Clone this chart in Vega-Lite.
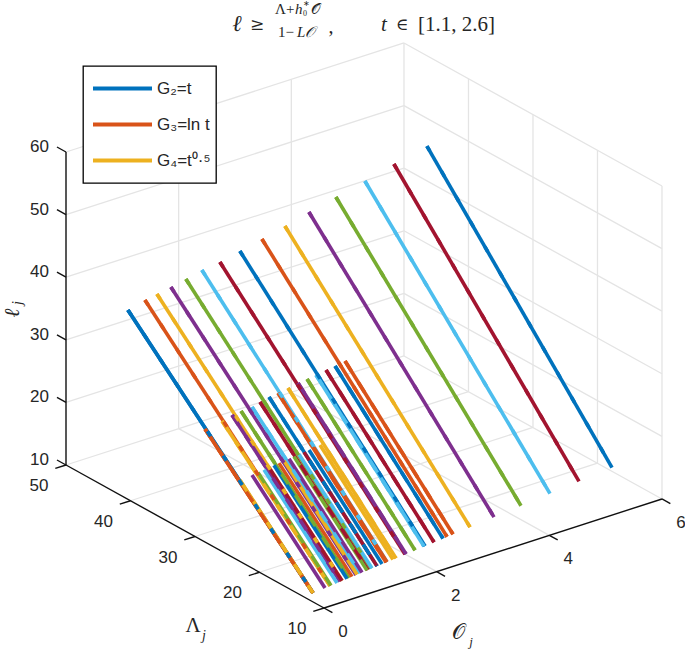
{
"$schema":"https://vega.github.io/schema/vega-lite/v6.json",
"width":685,"height":650,"padding":0,"autosize":{"type":"none"},
"background":"white",
"config":{"view":{"stroke":null},"text":{"font":"Liberation Sans","fontSize":17,"fill":"#262626"}},
"layer":[
{
"data":{"name":"rows","values":[
{"kind":"line","id":0,"G":"G₂=t","O":0.034,"Lam":12,"ell":11.16},{"kind":"line","id":0,"G":"G₂=t","O":0.034,"Lam":40.7,"ell":39.97},
{"kind":"line","id":1,"G":"G₂=t","O":0.336,"Lam":12,"ell":11.42},{"kind":"line","id":1,"G":"G₂=t","O":0.336,"Lam":40.7,"ell":40.70},
{"kind":"line","id":2,"G":"G₂=t","O":0.549,"Lam":12,"ell":11.61},{"kind":"line","id":2,"G":"G₂=t","O":0.549,"Lam":40.7,"ell":41.03},
{"kind":"line","id":3,"G":"G₂=t","O":0.797,"Lam":12,"ell":11.82},{"kind":"line","id":3,"G":"G₂=t","O":0.797,"Lam":40.7,"ell":41.43},
{"kind":"line","id":4,"G":"G₂=t","O":1.063,"Lam":12,"ell":12.06},{"kind":"line","id":4,"G":"G₂=t","O":1.063,"Lam":40.7,"ell":41.94},
{"kind":"line","id":5,"G":"G₂=t","O":1.347,"Lam":12,"ell":12.30},{"kind":"line","id":5,"G":"G₂=t","O":1.347,"Lam":40.7,"ell":42.55},
{"kind":"line","id":6,"G":"G₂=t","O":1.667,"Lam":12,"ell":12.58},{"kind":"line","id":6,"G":"G₂=t","O":1.667,"Lam":40.7,"ell":42.90},
{"kind":"line","id":7,"G":"G₂=t","O":2.022,"Lam":12,"ell":12.89},{"kind":"line","id":7,"G":"G₂=t","O":2.022,"Lam":40.7,"ell":43.63},
{"kind":"line","id":8,"G":"G₂=t","O":2.413,"Lam":12,"ell":13.23},{"kind":"line","id":8,"G":"G₂=t","O":2.413,"Lam":40.7,"ell":44.41},
{"kind":"line","id":9,"G":"G₂=t","O":2.821,"Lam":12,"ell":13.59},{"kind":"line","id":9,"G":"G₂=t","O":2.821,"Lam":40.7,"ell":45.30},
{"kind":"line","id":10,"G":"G₂=t","O":3.247,"Lam":12,"ell":13.96},{"kind":"line","id":10,"G":"G₂=t","O":3.247,"Lam":40.7,"ell":46.30},
{"kind":"line","id":11,"G":"G₂=t","O":3.726,"Lam":12,"ell":14.38},{"kind":"line","id":11,"G":"G₂=t","O":3.726,"Lam":40.7,"ell":47.31},
{"kind":"line","id":12,"G":"G₂=t","O":4.241,"Lam":12,"ell":14.83},{"kind":"line","id":12,"G":"G₂=t","O":4.241,"Lam":40.7,"ell":48.37},
{"kind":"line","id":13,"G":"G₂=t","O":4.756,"Lam":12,"ell":15.28},{"kind":"line","id":13,"G":"G₂=t","O":4.756,"Lam":40.7,"ell":49.59},
{"kind":"line","id":14,"G":"G₂=t","O":5.342,"Lam":12,"ell":15.79},{"kind":"line","id":14,"G":"G₂=t","O":5.342,"Lam":40.7,"ell":50.76},
{"kind":"line","id":15,"G":"G₃=ln t","O":0.034,"Lam":12,"ell":11.16},{"kind":"line","id":15,"G":"G₃=ln t","O":0.034,"Lam":28.74,"ell":27.79},
{"kind":"line","id":16,"G":"G₃=ln t","O":0.336,"Lam":12,"ell":11.42},{"kind":"line","id":16,"G":"G₃=ln t","O":0.336,"Lam":28.74,"ell":28.19},
{"kind":"line","id":17,"G":"G₃=ln t","O":0.513,"Lam":12,"ell":11.58},{"kind":"line","id":17,"G":"G₃=ln t","O":0.513,"Lam":28.74,"ell":28.64},
{"kind":"line","id":18,"G":"G₃=ln t","O":0.673,"Lam":12,"ell":11.71},{"kind":"line","id":18,"G":"G₃=ln t","O":0.673,"Lam":28.74,"ell":28.81},
{"kind":"line","id":19,"G":"G₃=ln t","O":0.868,"Lam":12,"ell":11.89},{"kind":"line","id":19,"G":"G₃=ln t","O":0.868,"Lam":28.74,"ell":28.89},
{"kind":"line","id":20,"G":"G₃=ln t","O":1.010,"Lam":12,"ell":12.01},{"kind":"line","id":20,"G":"G₃=ln t","O":1.010,"Lam":28.74,"ell":29.27},
{"kind":"line","id":21,"G":"G₃=ln t","O":1.170,"Lam":12,"ell":12.15},{"kind":"line","id":21,"G":"G₃=ln t","O":1.170,"Lam":28.74,"ell":29.61},
{"kind":"line","id":22,"G":"G₃=ln t","O":1.330,"Lam":12,"ell":12.29},{"kind":"line","id":22,"G":"G₃=ln t","O":1.330,"Lam":28.74,"ell":29.78},
{"kind":"line","id":23,"G":"G₃=ln t","O":1.507,"Lam":12,"ell":12.44},{"kind":"line","id":23,"G":"G₃=ln t","O":1.507,"Lam":28.74,"ell":30.07},
{"kind":"line","id":24,"G":"G₃=ln t","O":1.685,"Lam":12,"ell":12.60},{"kind":"line","id":24,"G":"G₃=ln t","O":1.685,"Lam":28.74,"ell":30.35},
{"kind":"line","id":25,"G":"G₃=ln t","O":1.845,"Lam":12,"ell":12.74},{"kind":"line","id":25,"G":"G₃=ln t","O":1.845,"Lam":28.74,"ell":30.52},
{"kind":"line","id":26,"G":"G₃=ln t","O":2.004,"Lam":12,"ell":12.88},{"kind":"line","id":26,"G":"G₃=ln t","O":2.004,"Lam":28.74,"ell":30.70},
{"kind":"line","id":27,"G":"G₃=ln t","O":2.182,"Lam":12,"ell":13.03},{"kind":"line","id":27,"G":"G₃=ln t","O":2.182,"Lam":28.74,"ell":30.98},
{"kind":"line","id":28,"G":"G₃=ln t","O":2.342,"Lam":12,"ell":13.17},{"kind":"line","id":28,"G":"G₃=ln t","O":2.342,"Lam":28.74,"ell":31.16},
{"kind":"line","id":29,"G":"G₃=ln t","O":2.519,"Lam":12,"ell":13.33},{"kind":"line","id":29,"G":"G₃=ln t","O":2.519,"Lam":28.74,"ell":31.44},
{"kind":"line","id":30,"G":"G₄=t⁰·⁵","O":0.034,"Lam":12,"ell":11.16},{"kind":"line","id":30,"G":"G₄=t⁰·⁵","O":0.034,"Lam":23.32,"ell":22.69},
{"kind":"line","id":31,"G":"G₄=t⁰·⁵","O":0.247,"Lam":12,"ell":11.34},{"kind":"line","id":31,"G":"G₄=t⁰·⁵","O":0.247,"Lam":23.32,"ell":22.92},
{"kind":"line","id":32,"G":"G₄=t⁰·⁵","O":0.353,"Lam":12,"ell":11.44},{"kind":"line","id":32,"G":"G₄=t⁰·⁵","O":0.353,"Lam":23.32,"ell":23.03},
{"kind":"line","id":33,"G":"G₄=t⁰·⁵","O":0.460,"Lam":12,"ell":11.53},{"kind":"line","id":33,"G":"G₄=t⁰·⁵","O":0.460,"Lam":23.32,"ell":23.15},
{"kind":"line","id":34,"G":"G₄=t⁰·⁵","O":0.549,"Lam":12,"ell":11.61},{"kind":"line","id":34,"G":"G₄=t⁰·⁵","O":0.549,"Lam":23.32,"ell":23.24},
{"kind":"line","id":35,"G":"G₄=t⁰·⁵","O":0.637,"Lam":12,"ell":11.68},{"kind":"line","id":35,"G":"G₄=t⁰·⁵","O":0.637,"Lam":23.32,"ell":23.34},
{"kind":"line","id":36,"G":"G₄=t⁰·⁵","O":0.726,"Lam":12,"ell":11.76},{"kind":"line","id":36,"G":"G₄=t⁰·⁵","O":0.726,"Lam":23.32,"ell":23.43},
{"kind":"line","id":37,"G":"G₄=t⁰·⁵","O":0.815,"Lam":12,"ell":11.84},{"kind":"line","id":37,"G":"G₄=t⁰·⁵","O":0.815,"Lam":23.32,"ell":23.53},
{"kind":"line","id":38,"G":"G₄=t⁰·⁵","O":0.904,"Lam":12,"ell":11.92},{"kind":"line","id":38,"G":"G₄=t⁰·⁵","O":0.904,"Lam":23.32,"ell":23.62},
{"kind":"line","id":39,"G":"G₄=t⁰·⁵","O":0.992,"Lam":12,"ell":11.99},{"kind":"line","id":39,"G":"G₄=t⁰·⁵","O":0.992,"Lam":23.32,"ell":23.72},
{"kind":"line","id":40,"G":"G₄=t⁰·⁵","O":1.081,"Lam":12,"ell":12.07},{"kind":"line","id":40,"G":"G₄=t⁰·⁵","O":1.081,"Lam":23.32,"ell":23.81},
{"kind":"line","id":41,"G":"G₄=t⁰·⁵","O":1.170,"Lam":12,"ell":12.15},{"kind":"line","id":41,"G":"G₄=t⁰·⁵","O":1.170,"Lam":23.32,"ell":23.90},
{"kind":"line","id":42,"G":"G₄=t⁰·⁵","O":1.259,"Lam":12,"ell":12.23},{"kind":"line","id":42,"G":"G₄=t⁰·⁵","O":1.259,"Lam":23.32,"ell":23.99},
{"kind":"line","id":43,"G":"G₄=t⁰·⁵","O":1.347,"Lam":12,"ell":12.30},{"kind":"line","id":43,"G":"G₄=t⁰·⁵","O":1.347,"Lam":23.32,"ell":24.09},
{"kind":"line","id":44,"G":"G₄=t⁰·⁵","O":1.454,"Lam":12,"ell":12.40},{"kind":"line","id":44,"G":"G₄=t⁰·⁵","O":1.454,"Lam":23.32,"ell":24.21},

{"kind":"grid","id":"fL20","O":0,"Lam":20,"ell":10},{"kind":"grid","id":"fL20","O":6,"Lam":20,"ell":10},
{"kind":"grid","id":"fL30","O":0,"Lam":30,"ell":10},{"kind":"grid","id":"fL30","O":6,"Lam":30,"ell":10},
{"kind":"grid","id":"fL40","O":0,"Lam":40,"ell":10},{"kind":"grid","id":"fL40","O":6,"Lam":40,"ell":10},
{"kind":"grid","id":"fL50","O":0,"Lam":50,"ell":10},{"kind":"grid","id":"fL50","O":6,"Lam":50,"ell":10},
{"kind":"grid","id":"fO2","O":2,"Lam":10,"ell":10},{"kind":"grid","id":"fO2","O":2,"Lam":50,"ell":10},
{"kind":"grid","id":"fO4","O":4,"Lam":10,"ell":10},{"kind":"grid","id":"fO4","O":4,"Lam":50,"ell":10},
{"kind":"grid","id":"fO6","O":6,"Lam":10,"ell":10},{"kind":"grid","id":"fO6","O":6,"Lam":50,"ell":10},
{"kind":"grid","id":"a20","O":0,"Lam":50,"ell":20},{"kind":"grid","id":"a20","O":6,"Lam":50,"ell":20},
{"kind":"grid","id":"a30","O":0,"Lam":50,"ell":30},{"kind":"grid","id":"a30","O":6,"Lam":50,"ell":30},
{"kind":"grid","id":"a40","O":0,"Lam":50,"ell":40},{"kind":"grid","id":"a40","O":6,"Lam":50,"ell":40},
{"kind":"grid","id":"a50","O":0,"Lam":50,"ell":50},{"kind":"grid","id":"a50","O":6,"Lam":50,"ell":50},
{"kind":"grid","id":"a60","O":0,"Lam":50,"ell":60},{"kind":"grid","id":"a60","O":6,"Lam":50,"ell":60},
{"kind":"grid","id":"aO2","O":2,"Lam":50,"ell":10},{"kind":"grid","id":"aO2","O":2,"Lam":50,"ell":60},
{"kind":"grid","id":"aO4","O":4,"Lam":50,"ell":10},{"kind":"grid","id":"aO4","O":4,"Lam":50,"ell":60},
{"kind":"grid","id":"aO6","O":6,"Lam":50,"ell":10},{"kind":"grid","id":"aO6","O":6,"Lam":50,"ell":60},
{"kind":"grid","id":"b20","O":6,"Lam":10,"ell":20},{"kind":"grid","id":"b20","O":6,"Lam":50,"ell":20},
{"kind":"grid","id":"b30","O":6,"Lam":10,"ell":30},{"kind":"grid","id":"b30","O":6,"Lam":50,"ell":30},
{"kind":"grid","id":"b40","O":6,"Lam":10,"ell":40},{"kind":"grid","id":"b40","O":6,"Lam":50,"ell":40},
{"kind":"grid","id":"b50","O":6,"Lam":10,"ell":50},{"kind":"grid","id":"b50","O":6,"Lam":50,"ell":50},
{"kind":"grid","id":"b60","O":6,"Lam":10,"ell":60},{"kind":"grid","id":"b60","O":6,"Lam":50,"ell":60},
{"kind":"grid","id":"bL10","O":6,"Lam":10,"ell":10},{"kind":"grid","id":"bL10","O":6,"Lam":10,"ell":60},
{"kind":"grid","id":"bL20","O":6,"Lam":20,"ell":10},{"kind":"grid","id":"bL20","O":6,"Lam":20,"ell":60},
{"kind":"grid","id":"bL30","O":6,"Lam":30,"ell":10},{"kind":"grid","id":"bL30","O":6,"Lam":30,"ell":60},
{"kind":"grid","id":"bL40","O":6,"Lam":40,"ell":10},{"kind":"grid","id":"bL40","O":6,"Lam":40,"ell":60},

{"kind":"axis","id":"axE","O":0,"Lam":50,"ell":10},{"kind":"axis","id":"axE","O":0,"Lam":50,"ell":60},
{"kind":"axis","id":"axL","O":0,"Lam":10,"ell":10},{"kind":"axis","id":"axL","O":0,"Lam":50,"ell":10},
{"kind":"axis","id":"axO","O":0,"Lam":10,"ell":10},{"kind":"axis","id":"axO","O":6,"Lam":10,"ell":10},
{"kind":"axis","id":"tE10","O":0,"Lam":50,"ell":10},{"kind":"axis","id":"tE10","O":0,"Lam":51.4,"ell":10},
{"kind":"axis","id":"tE20","O":0,"Lam":50,"ell":20},{"kind":"axis","id":"tE20","O":0,"Lam":51.4,"ell":20},
{"kind":"axis","id":"tE30","O":0,"Lam":50,"ell":30},{"kind":"axis","id":"tE30","O":0,"Lam":51.4,"ell":30},
{"kind":"axis","id":"tE40","O":0,"Lam":50,"ell":40},{"kind":"axis","id":"tE40","O":0,"Lam":51.4,"ell":40},
{"kind":"axis","id":"tE50","O":0,"Lam":50,"ell":50},{"kind":"axis","id":"tE50","O":0,"Lam":51.4,"ell":50},
{"kind":"axis","id":"tE60","O":0,"Lam":50,"ell":60},{"kind":"axis","id":"tE60","O":0,"Lam":51.4,"ell":60},
{"kind":"axis","id":"tL10","O":0,"Lam":10,"ell":10},{"kind":"axis","id":"tL10","O":-0.19,"Lam":10,"ell":10},
{"kind":"axis","id":"tL20","O":0,"Lam":20,"ell":10},{"kind":"axis","id":"tL20","O":-0.19,"Lam":20,"ell":10},
{"kind":"axis","id":"tL30","O":0,"Lam":30,"ell":10},{"kind":"axis","id":"tL30","O":-0.19,"Lam":30,"ell":10},
{"kind":"axis","id":"tL40","O":0,"Lam":40,"ell":10},{"kind":"axis","id":"tL40","O":-0.19,"Lam":40,"ell":10},
{"kind":"axis","id":"tL50","O":0,"Lam":50,"ell":10},{"kind":"axis","id":"tL50","O":-0.19,"Lam":50,"ell":10},
{"kind":"axis","id":"tO0","O":0,"Lam":10,"ell":10},{"kind":"axis","id":"tO0","O":0,"Lam":8.7,"ell":10},
{"kind":"axis","id":"tO2","O":2,"Lam":10,"ell":10},{"kind":"axis","id":"tO2","O":2,"Lam":8.7,"ell":10},
{"kind":"axis","id":"tO4","O":4,"Lam":10,"ell":10},{"kind":"axis","id":"tO4","O":4,"Lam":8.7,"ell":10},
{"kind":"axis","id":"tO6","O":6,"Lam":10,"ell":10},{"kind":"axis","id":"tO6","O":6,"Lam":8.7,"ell":10},

{"kind":"ellLabel","O":0,"Lam":50,"ell":10},{"kind":"ellLabel","O":0,"Lam":50,"ell":20},{"kind":"ellLabel","O":0,"Lam":50,"ell":30},{"kind":"ellLabel","O":0,"Lam":50,"ell":40},{"kind":"ellLabel","O":0,"Lam":50,"ell":50},{"kind":"ellLabel","O":0,"Lam":50,"ell":60},
{"kind":"lamLabel","O":0,"Lam":10,"ell":10},{"kind":"lamLabel","O":0,"Lam":20,"ell":10},{"kind":"lamLabel","O":0,"Lam":30,"ell":10},{"kind":"lamLabel","O":0,"Lam":40,"ell":10},{"kind":"lamLabel","O":0,"Lam":50,"ell":10},
{"kind":"oLabel","O":0,"Lam":10,"ell":10},{"kind":"oLabel","O":2,"Lam":10,"ell":10},{"kind":"oLabel","O":4,"Lam":10,"ell":10},{"kind":"oLabel","O":6,"Lam":10,"ell":10}
]},
"transform":[
{"calculate":"56.33*datum.O-6.45*(datum.Lam-10)","as":"sx"},
{"calculate":"18.17*datum.O+3.575*(datum.Lam-10)+6.26*(datum.ell-10)","as":"sy"}
],
"encoding":{
"x":{"field":"sx","type":"quantitative","axis":null,"scale":{"domain":[-324,361],"nice":false,"zero":false}},
"y":{"field":"sy","type":"quantitative","axis":null,"scale":{"domain":[-42,608],"nice":false,"zero":false}}
},
"layer":[
{"transform":[{"filter":"datum.kind==='grid'"}],"mark":{"type":"line","stroke":"#e4e4e4","strokeWidth":1.3},"encoding":{"detail":{"field":"id"}}},
{"transform":[{"filter":"datum.kind==='line' && (datum.id===0||datum.id===15||datum.id===30)"}],
 "mark":{"type":"line","strokeWidth":3.6},
 "encoding":{"detail":{"field":"id"},"color":{"field":"G","type":"nominal","sort":null,
   "scale":{"domain":["G₂=t","G₃=ln t","G₄=t⁰·⁵"],"range":["#0072BD","#D95319","#EDB120"]},
   "legend":{"orient":"none","legendX":83,"legendY":66,"title":null,"symbolType":"stroke","symbolSize":3481,"symbolStrokeWidth":4,"symbolOffset":3,"clipHeight":35,"rowPadding":1,"labelFont":"Liberation Sans","labelFontSize":17,"labelColor":"#262626","labelOffset":3,"padding":5,"strokeColor":"black","fillColor":"white","encode":{"legend":{"update":{"strokeWidth":{"value":1.3}}}}}}}},
{"transform":[{"filter":"datum.kind==='line'"}],
 "mark":{"type":"line","strokeWidth":3.6},
 "encoding":{"stroke":{"field":"id","type":"ordinal","legend":null,"scale":{"range":["#0072BD","#D95319","#EDB120","#7E2F8E","#77AC30","#4DBEEE","#A2142F"]}}}},
{"transform":[{"filter":"datum.kind==='line' && datum.id>=15 && datum.id<30"}],
 "mark":{"type":"line","strokeWidth":3.6,"strokeDash":[12,13]},
 "encoding":{"stroke":{"field":"id","type":"ordinal","legend":null}}},
{"transform":[{"filter":"datum.kind==='line' && datum.id<15"}],
 "mark":{"type":"line","strokeWidth":3.6,"strokeDash":[6,23]},
 "encoding":{"stroke":{"field":"id","type":"ordinal","legend":null}}},
{"transform":[{"filter":"datum.kind==='axis'"}],"mark":{"type":"line","stroke":"#111111","strokeWidth":1.4},"encoding":{"detail":{"field":"id"}}},
{"transform":[{"filter":"datum.kind==='ellLabel'"}],"mark":{"type":"text","align":"right","baseline":"middle","dx":-17,"dy":-5},"encoding":{"text":{"field":"ell","type":"quantitative"}}},
{"transform":[{"filter":"datum.kind==='lamLabel'"}],"mark":{"type":"text","align":"center","baseline":"middle","dx":-27,"dy":21},"encoding":{"text":{"field":"Lam","type":"quantitative"}}},
{"transform":[{"filter":"datum.kind==='oLabel'"}],"mark":{"type":"text","align":"center","baseline":"middle","dx":19,"dy":24},"encoding":{"text":{"field":"O","type":"quantitative"}}}
]
},
{"data":{"values":[{}]},"mark":{"type":"text","text":"ℓ","x":237,"y":24,"font":"Liberation Serif","fontStyle":"italic","fontSize":23,"align":"center","baseline":"middle"}},
{"data":{"values":[{}]},"mark":{"type":"text","text":"≥","x":257,"y":25,"font":"DejaVu Serif","fontSize":17,"align":"center","baseline":"middle"}},
{"data":{"values":[{}]},"mark":{"type":"text","text":"Λ+","x":275,"y":9,"font":"Liberation Serif","fontSize":15,"align":"left","baseline":"middle"}},
{"data":{"values":[{}]},"mark":{"type":"text","text":"h","x":295,"y":9,"font":"Liberation Serif","fontStyle":"italic","fontSize":15,"align":"left","baseline":"middle"}},
{"data":{"values":[{}]},"mark":{"type":"text","text":"∗","x":303,"y":4,"font":"Liberation Serif","fontSize":8,"align":"left","baseline":"middle"}},
{"data":{"values":[{}]},"mark":{"type":"text","text":"0","x":303,"y":14,"font":"Liberation Serif","fontSize":8,"align":"left","baseline":"middle"}},
{"data":{"values":[{}]},"mark":{"type":"text","text":"𝒪","x":311,"y":9,"font":"Liberation Serif","fontSize":15,"align":"left","baseline":"middle"}},
{"data":{"values":[{}]},"mark":{"type":"rule","x":274,"x2":325,"y":21,"stroke":"#222222","strokeWidth":0.8},"encoding":{}},
{"data":{"values":[{}]},"mark":{"type":"text","text":"1−","x":278,"y":32,"font":"Liberation Serif","fontSize":15,"align":"left","baseline":"middle"}},
{"data":{"values":[{}]},"mark":{"type":"text","text":"L𝒪","x":297,"y":32,"font":"Liberation Serif","fontStyle":"italic","fontSize":15,"align":"left","baseline":"middle"}},
{"data":{"values":[{}]},"mark":{"type":"text","text":",","x":331,"y":27,"font":"Liberation Serif","fontSize":20,"align":"center","baseline":"middle"}},
{"data":{"values":[{}]},"mark":{"type":"text","text":"t","x":381,"y":25,"font":"Liberation Serif","fontStyle":"italic","fontSize":21,"align":"left","baseline":"middle"}},
{"data":{"values":[{}]},"mark":{"type":"text","text":"∈","x":402,"y":25,"font":"DejaVu Serif","fontSize":17,"align":"center","baseline":"middle"}},
{"data":{"values":[{}]},"mark":{"type":"text","text":"[1.1, 2.6]","x":418,"y":25,"font":"Liberation Serif","fontSize":21,"align":"left","baseline":"middle"}},
{"data":{"values":[{}]},"mark":{"type":"text","text":"Λ","x":193,"y":626,"font":"Liberation Serif","fontSize":21,"align":"center","baseline":"middle"}},
{"data":{"values":[{}]},"mark":{"type":"text","text":"j","x":204,"y":636,"font":"Liberation Serif","fontStyle":"italic","fontSize":14,"align":"center","baseline":"middle"}},
{"data":{"values":[{}]},"mark":{"type":"text","text":"𝒪","x":458,"y":633,"font":"Liberation Serif","fontSize":21,"align":"center","baseline":"middle"}},
{"data":{"values":[{}]},"mark":{"type":"text","text":"j","x":471,"y":642,"font":"Liberation Serif","fontStyle":"italic","fontSize":13,"align":"center","baseline":"middle"}},
{"data":{"values":[{}]},"mark":{"type":"text","text":"ℓ","x":13,"y":313,"angle":270,"font":"Liberation Serif","fontStyle":"italic","fontSize":21,"align":"center","baseline":"middle"}},
{"data":{"values":[{}]},"mark":{"type":"text","text":"j","x":18,"y":303,"angle":270,"font":"Liberation Serif","fontStyle":"italic","fontSize":14,"align":"center","baseline":"middle"}}
]
}
